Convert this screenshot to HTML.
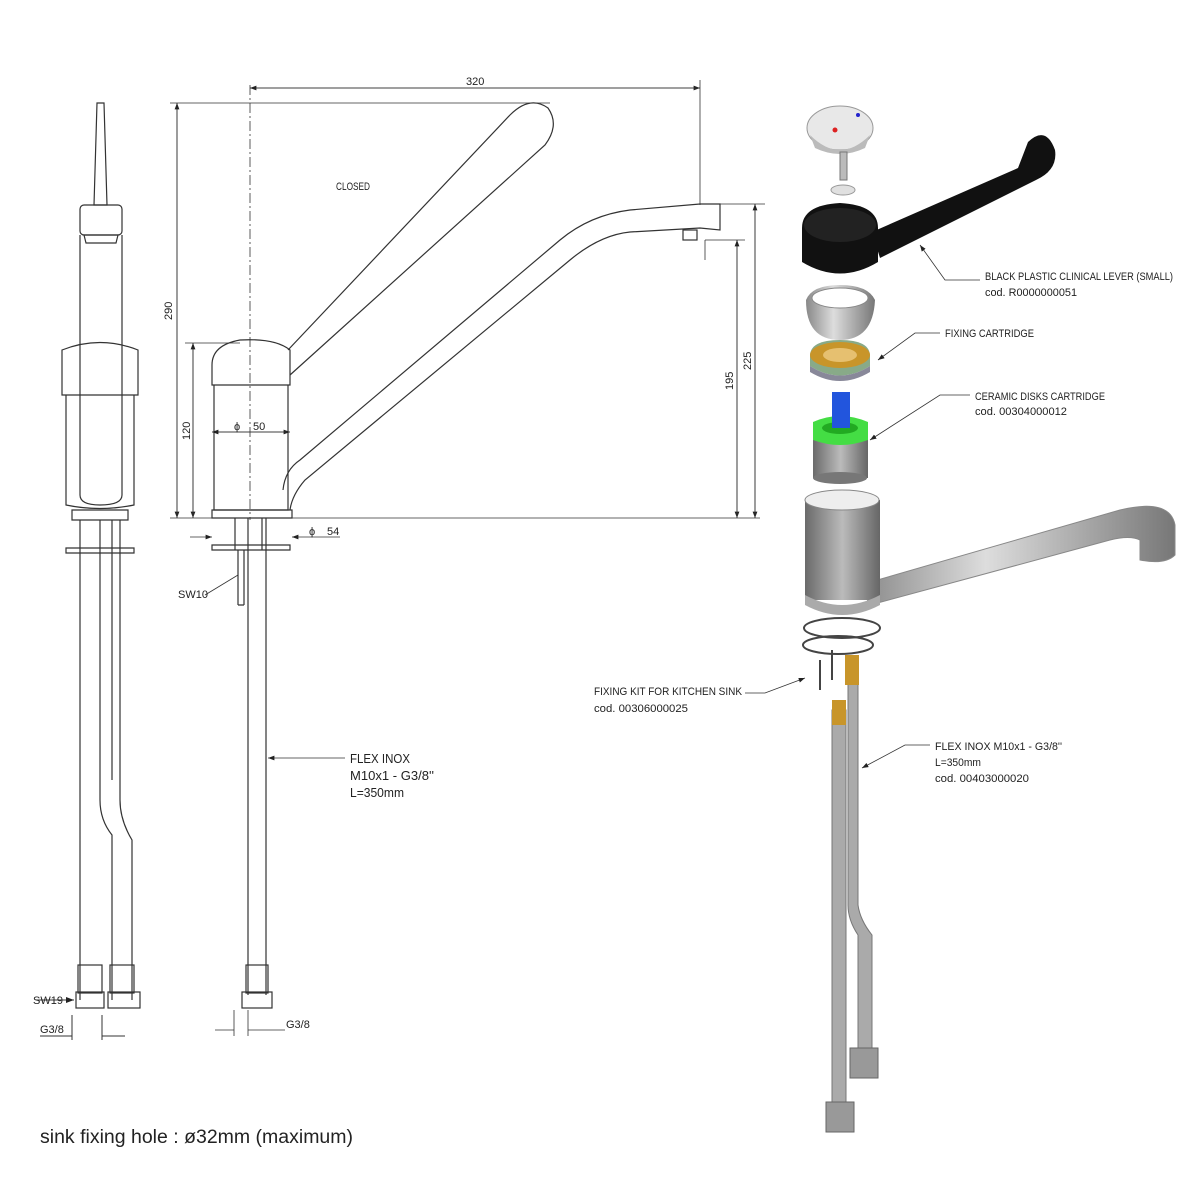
<!DOCTYPE html>
<html><head><meta charset="utf-8"><style>
html,body{margin:0;padding:0;background:#fff}
svg{display:block}
text{font-family:"Liberation Sans",sans-serif;fill:#222}
.t{font-size:11px}
.l{font-size:13px}
</style></head><body>
<svg width="1200" height="1200" viewBox="0 0 1200 1200" xmlns="http://www.w3.org/2000/svg">
<defs>
<marker id="a" markerWidth="8" markerHeight="6" refX="8" refY="3" orient="auto"><path d="M0,0 L8,3 L0,6z" fill="#222"/></marker>
<linearGradient id="g" x1="0" x2="1"><stop offset="0" stop-color="#888"/><stop offset=".4" stop-color="#ddd"/><stop offset="1" stop-color="#777"/></linearGradient>
<linearGradient id="gb" x1="0" x2="1"><stop offset="0" stop-color="#6a6a6a"/><stop offset=".5" stop-color="#bbb"/><stop offset="1" stop-color="#666"/></linearGradient>
</defs>
<g fill="none" stroke="#333" stroke-width="1.2">
<path d="M97,103 L104,103 L107,205 L94,205 Z"/>
<rect x="80" y="205" width="42" height="30" rx="4"/>
<path d="M84,235 L118,235 L116,243 L86,243Z"/>
<path d="M80,235 L80,495 Q80,505 100,505 Q122,505 122,495 L122,235"/>
<path d="M62,350 Q100,335 138,350 L138,395 L62,395 Z"/>
<path d="M66,395 L66,505 Q100,512 134,505 L134,395"/>
<path d="M72,510 L128,510 L128,520 L72,520Z"/>
<path d="M66,548 L134,548 L134,553 L66,553Z"/>
<path d="M80,520 L80,1000 M100,520 L100,800 Q100,820 112,835 L112,1000 M112,520 L112,780 M120,520 L120,800 Q120,820 132,840 L132,1000 M80,520 L80,990"/>
<rect x="78" y="965" width="24" height="28"/>
<rect x="110" y="965" width="24" height="28"/>
<rect x="76" y="992" width="28" height="16"/>
<rect x="108" y="992" width="32" height="16"/>
<path d="M36,1000 L74,1000" marker-end="url(#a)" stroke-width="1"/>
<path d="M72,1015 L72,1040 M102,1015 L102,1040 M40,1036 L72,1036 M102,1036 L125,1036" stroke-width="1"/>
<path d="M212,365 Q212,345 240,340 Q275,338 290,350 L290,385 L212,385 Z"/>
<path d="M214,385 L214,510 L288,510 L288,385"/>
<path d="M212,510 L292,510 L292,518 L212,518Z"/>
<path d="M288,350 L510,115 Q530,95 548,108 Q560,125 545,145 L290,375"/>
<path d="M283,490 Q285,470 300,460 L560,240 Q590,215 630,210 L700,204 L720,204 L720,230 L700,228 L630,232 Q600,235 570,260 L305,480 Q292,495 290,510"/>
<rect x="683" y="230" width="14" height="10"/>
<path d="M235,518 L235,550 M262,518 L262,550 M238,550 L238,605 M244,550 L244,605 M238,605 L244,605 M212,545 L290,545 L290,550 L212,550Z"/>
<path d="M248,518 L248,995 M266,518 L266,995"/>
<rect x="246" y="965" width="22" height="28"/>
<rect x="242" y="992" width="30" height="16"/>
<g stroke-width="0.8">
<path d="M250,85 L250,520" stroke-dasharray="10,3,2,3"/>
<path d="M250,88 L700,88" marker-end="url(#a)"/><path d="M700,88 L250,88" marker-end="url(#a)"/>
<path d="M700,80 L700,205"/>
<path d="M170,103 L550,103"/>
<path d="M177,103 L177,518" marker-end="url(#a)"/><path d="M177,518 L177,103" marker-end="url(#a)"/>
<path d="M170,518 L760,518"/>
<path d="M185,343 L240,343"/>
<path d="M193,343 L193,518" marker-end="url(#a)"/><path d="M193,518 L193,343" marker-end="url(#a)"/>
<path d="M212,432 L290,432" marker-end="url(#a)"/><path d="M290,432 L212,432" marker-end="url(#a)"/>
<path d="M190,537 L212,537" marker-end="url(#a)"/><path d="M340,537 L292,537" marker-end="url(#a)"/>
<path d="M705,240 L745,240 M720,204 L765,204"/>
<path d="M737,240 L737,518" marker-end="url(#a)"/><path d="M737,518 L737,240" marker-end="url(#a)"/>
<path d="M755,204 L755,518" marker-end="url(#a)"/><path d="M755,518 L755,204" marker-end="url(#a)"/>
<path d="M705,240 L705,260"/>
<path d="M205,595 L238,575"/>
<path d="M345,758 L268,758" marker-end="url(#a)"/>
<path d="M234,1010 L234,1036 M248,1010 L248,1036 M215,1030 L234,1030 M248,1030 L285,1030"/>
<path d="M980,280 L945,280 L920,245" marker-end="url(#a)"/>
<path d="M940,333 L915,333 L878,360" marker-end="url(#a)"/>
<path d="M970,395 L940,395 L870,440" marker-end="url(#a)"/>
<path d="M745,693 L765,693 L805,678" marker-end="url(#a)"/>
<path d="M930,745 L905,745 L862,768" marker-end="url(#a)"/>
</g>
</g>
<ellipse cx="840" cy="128" rx="33" ry="22" fill="#e8e8e8" stroke="#999"/>
<path d="M810,135 Q840,165 870,135 L865,148 Q840,160 815,148Z" fill="#bbb"/>
<circle cx="835" cy="130" r="2.5" fill="#d22"/><circle cx="858" cy="115" r="2" fill="#22c"/>
<rect x="840" y="152" width="7" height="28" fill="#bbb" stroke="#777"/>
<ellipse cx="843" cy="190" rx="12" ry="5" fill="#e0e0e0" stroke="#999"/>
<path d="M872,232 L1018,168 L1028,142 Q1046,125 1055,150 Q1058,170 1036,180 L880,258Z" fill="#111"/>
<path d="M802,228 Q802,205 840,203 Q878,205 878,228 L878,262 Q840,285 802,262Z" fill="#111"/>
<ellipse cx="840" cy="225" rx="36" ry="17" fill="#222"/>
<path d="M806,300 Q812,285 840,285 Q868,285 875,300 Q873,340 840,340 Q806,340 806,300Z" fill="url(#g)"/>
<ellipse cx="840" cy="298" rx="28" ry="10" fill="#fff" stroke="#888"/>
<path d="M810,356 Q810,340 840,340 Q870,340 870,356 L870,366 Q840,385 810,366Z" fill="#8a8"/>
<path d="M810,366 Q840,385 870,366 L870,372 Q840,390 810,372Z" fill="#889"/>
<ellipse cx="840" cy="355" rx="30" ry="13" fill="#c8952a"/>
<ellipse cx="840" cy="355" rx="17" ry="7" fill="#e6c070"/>
<rect x="813" y="440" width="55" height="38" fill="url(#gb)"/>
<ellipse cx="840" cy="478" rx="27" ry="6" fill="#777"/>
<path d="M813,440 L813,422 Q840,410 868,422 L868,440 Q840,450 813,440Z" fill="#4d4"/>
<ellipse cx="840" cy="428" rx="18" ry="6" fill="#2a2"/>
<rect x="832" y="392" width="18" height="36" fill="#2255dd"/>
<path d="M860,585 L1120,510 Q1170,498 1175,525 L1175,555 Q1165,565 1140,560 L1140,540 Q1130,535 1110,540 L870,605Z" fill="url(#g)" stroke="#888"/>
<rect x="805" y="500" width="75" height="100" fill="url(#gb)"/>
<ellipse cx="842" cy="500" rx="37" ry="10" fill="#eee" stroke="#888"/>
<path d="M805,595 Q842,615 880,595 L880,605 Q842,625 805,605Z" fill="#aaa"/>
<g stroke="#444" fill="none" stroke-width="2">
<ellipse cx="842" cy="628" rx="38" ry="10"/><ellipse cx="838" cy="645" rx="35" ry="9"/>
<path d="M820,660 L820,690 M832,650 L832,680"/>
</g>
<rect x="832" y="710" width="14" height="395" fill="#aaa" stroke="#777"/>
<path d="M848,660 L858,660 L858,905 Q860,920 872,935 L872,1050 L858,1050 L858,935 Q848,920 848,905Z" fill="#aaa" stroke="#777"/>
<rect x="845" y="655" width="14" height="30" fill="#c8952a"/>
<rect x="832" y="700" width="14" height="25" fill="#c8952a"/>
<rect x="850" y="1048" width="28" height="30" fill="#999" stroke="#666"/>
<rect x="826" y="1102" width="28" height="30" fill="#999" stroke="#666"/>
<text class="t" x="466" y="85">320</text>
<text class="t" x="336" y="190" textLength="34" lengthAdjust="spacingAndGlyphs">CLOSED</text>
<text class="t" transform="translate(172,320) rotate(-90)">290</text>
<text class="t" transform="translate(190,440) rotate(-90)">120</text>
<text class="t" x="234" y="430" font-size="14">ϕ</text><text class="t" x="253" y="430">50</text>
<text class="t" x="309" y="535" font-size="14">ϕ</text><text class="t" x="327" y="535">54</text>
<text class="t" transform="translate(733,390) rotate(-90)">195</text>
<text class="t" transform="translate(751,370) rotate(-90)">225</text>
<text class="t" x="178" y="598">SW10</text>
<text class="l" x="350" y="763" textLength="60" lengthAdjust="spacingAndGlyphs">FLEX INOX</text>
<text class="l" x="350" y="780" textLength="84" lengthAdjust="spacingAndGlyphs">M10x1 - G3/8''</text>
<text class="l" x="350" y="797" textLength="54" lengthAdjust="spacingAndGlyphs">L=350mm</text>
<text class="t" x="33" y="1004">SW19</text>
<text class="t" x="40" y="1033">G3/8</text>
<text class="t" x="286" y="1028">G3/8</text>
<text x="40" y="1143" font-size="19" textLength="313" lengthAdjust="spacingAndGlyphs">sink fixing hole : ø32mm (maximum)</text>
<text class="t" x="985" y="280" textLength="188" lengthAdjust="spacingAndGlyphs">BLACK PLASTIC CLINICAL LEVER (SMALL)</text>
<text class="t" x="985" y="296" textLength="92" lengthAdjust="spacingAndGlyphs">cod. R0000000051</text>
<text class="t" x="945" y="337" textLength="89" lengthAdjust="spacingAndGlyphs">FIXING CARTRIDGE</text>
<text class="t" x="975" y="400" textLength="130" lengthAdjust="spacingAndGlyphs">CERAMIC DISKS CARTRIDGE</text>
<text class="t" x="975" y="415" textLength="92" lengthAdjust="spacingAndGlyphs">cod. 00304000012</text>
<text class="t" x="594" y="695" textLength="148" lengthAdjust="spacingAndGlyphs">FIXING KIT FOR KITCHEN SINK</text>
<text class="t" x="594" y="712" textLength="94" lengthAdjust="spacingAndGlyphs">cod. 00306000025</text>
<text class="t" x="935" y="750" textLength="127" lengthAdjust="spacingAndGlyphs">FLEX INOX M10x1 - G3/8''</text>
<text class="t" x="935" y="766" textLength="46" lengthAdjust="spacingAndGlyphs">L=350mm</text>
<text class="t" x="935" y="782" textLength="94" lengthAdjust="spacingAndGlyphs">cod. 00403000020</text>
</svg>
</body></html>
